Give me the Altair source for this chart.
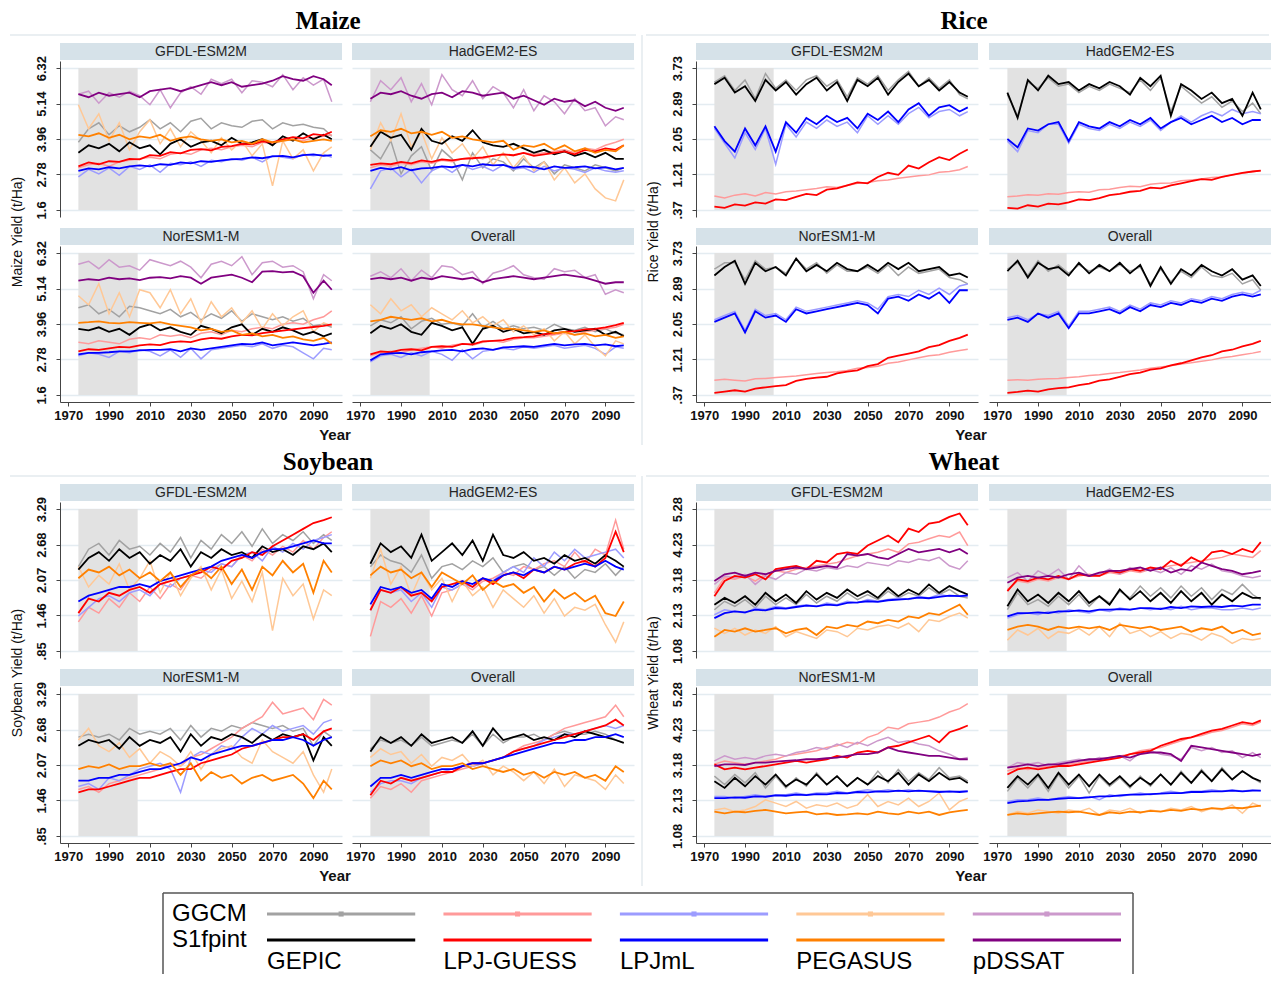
import altair as alt
import pandas as pd

SANS = "Liberation Sans"
SERIF = "Liberation Serif"

YEARS = [1975, 1980, 1985, 1990, 1995, 2000, 2005, 2010, 2015, 2020, 2025, 2030, 2035,
         2040, 2045, 2050, 2055, 2060, 2065, 2070, 2075, 2080, 2085, 2090, 2095, 2099]
X_TICKS = [1970, 1990, 2010, 2030, 2050, 2070, 2090]
SHADE_YEARS = [1975, 2004]
PANELS = ["GFDL-ESM2M", "HadGEM2-ES", "NorESM1-M", "Overall"]
MODELS = ["GEPIC", "LPJ-GUESS", "LPJmL", "PEGASUS", "pDSSAT"]
VARIANTS = ["GGCM", "S1fpint"]
LIGHT = ["#a2a2a2", "#ff9a9a", "#9c9cff", "#ffc896", "#cc99cc"]
DARK = ["#000000", "#ff0000", "#0000ff", "#ff8000", "#800080"]

MAIZE_TICKS = [1.6, 2.78, 3.96, 5.14, 6.32]
RICE_TICKS = [0.37, 1.21, 2.05, 2.89, 3.73]
SOY_TICKS = [0.85, 1.46, 2.07, 2.68, 3.29]
WHEAT_TICKS = [1.08, 2.13, 3.18, 4.23, 5.28]

# ---- data: model -> (GGCM series, S1fpint series), one value per entry of YEARS ----
maize_gfdl = {
    "GEPIC": ([3.85, 4.3, 4.5, 4.1, 4.4, 4.2, 4.35, 4.6, 4.3, 4.5, 4.2, 4.55, 4.65, 4.3, 4.5, 4.4, 4.35, 4.55, 4.6, 4.3, 4.5, 4.4, 4.45, 4.35, 4.3, 4.05],
              [3.5, 3.75, 3.65, 3.8, 3.55, 3.85, 3.65, 3.75, 3.45, 3.8, 3.95, 3.7, 3.85, 3.9, 3.75, 4.0, 3.8, 3.85, 3.95, 3.75, 4.05, 3.9, 4.15, 3.95, 4.1, 3.95]),
    "LPJ-GUESS": ([3.0, 3.1, 3.15, 3.05, 3.2, 3.25, 3.3, 3.35, 3.3, 3.45, 3.5, 3.45, 3.6, 3.65, 3.6, 3.7, 3.75, 3.7, 3.85, 3.8, 3.9, 3.95, 3.9, 4.0, 4.05, 4.1],
                  [3.05, 3.18, 3.12, 3.22, 3.2, 3.3, 3.28, 3.42, 3.4, 3.52, 3.48, 3.6, 3.62, 3.58, 3.7, 3.72, 3.8, 3.78, 3.88, 3.85, 3.95, 4.02, 3.98, 4.12, 4.08, 4.2]),
    "LPJmL": ([2.7, 2.95, 2.8, 3.0, 2.75, 3.05, 2.95, 3.1, 2.85, 3.15, 3.1, 3.2, 3.05, 3.25, 3.2, 3.3, 3.25, 3.35, 3.2, 3.4, 3.35, 3.3, 3.45, 3.4, 3.45, 3.35],
              [2.9, 2.98, 2.95, 3.02, 2.98, 3.05, 3.08, 3.05, 3.12, 3.1, 3.18, 3.15, 3.22, 3.2, 3.25, 3.28, 3.3, 3.35, 3.32, 3.38, 3.4, 3.35, 3.42, 3.45, 3.4, 3.42]),
    "PEGASUS": ([5.1, 4.3, 4.8, 3.9, 4.5, 3.6, 4.2, 4.6, 3.8, 4.3, 3.7, 4.2, 3.9, 3.5, 4.0, 3.6, 3.9, 3.4, 3.8, 2.4, 3.9, 3.3, 3.6, 2.9, 3.5, 3.7],
                [4.1, 4.05, 4.15, 4.0, 4.1, 3.95, 4.05, 4.0, 4.1, 3.9, 4.0, 4.05, 3.95, 3.9, 3.95, 3.85, 3.9, 3.8, 3.95, 3.85, 3.9, 3.95, 3.85, 3.9, 3.95, 3.9]),
    "pDSSAT": ([5.45, 5.55, 5.15, 5.5, 5.35, 5.55, 5.4, 5.1, 5.6, 5.0, 5.5, 5.7, 5.45, 5.95, 5.8, 5.95, 5.5, 5.9, 5.85, 5.7, 6.1, 5.6, 6.0, 5.75, 5.95, 5.2],
               [5.45, 5.35, 5.5, 5.4, 5.45, 5.5, 5.35, 5.55, 5.6, 5.65, 5.55, 5.65, 5.75, 5.85, 5.75, 5.85, 5.7, 5.75, 5.8, 5.9, 6.05, 5.95, 5.9, 6.05, 5.95, 5.75]),
}
maize_hadgem = {
    "GEPIC": ([3.6, 3.3, 3.9, 2.8, 3.4, 3.7, 2.9, 3.6, 3.3, 2.6, 3.5, 3.0, 3.3, 3.2, 2.9, 3.3, 3.0, 3.2, 2.8, 3.1, 3.0, 2.9, 3.1, 3.0, 2.9, 3.0],
              [3.7, 4.2, 4.0, 4.1, 3.6, 4.3, 3.9, 3.8, 4.05, 3.9, 4.25, 3.85, 3.75, 3.7, 3.8, 3.65, 3.5, 3.6, 3.45, 3.55, 3.4, 3.5, 3.35, 3.5, 3.3, 3.3]),
    "LPJ-GUESS": ([3.0, 3.1, 3.05, 3.15, 3.1, 3.2, 3.15, 3.25, 3.2, 3.3, 3.35, 3.3, 3.4, 3.45, 3.4, 3.5, 3.45, 3.5, 3.55, 3.6, 3.5, 3.65, 3.6, 3.75, 3.85, 3.95],
                  [3.1, 3.15, 3.12, 3.2, 3.15, 3.25, 3.2, 3.28, 3.25, 3.3, 3.32, 3.35, 3.4, 3.45, 3.42, 3.5, 3.4, 3.45, 3.5, 3.55, 3.45, 3.6, 3.55, 3.65, 3.6, 3.75]),
    "LPJmL": ([2.3, 2.9, 3.0, 2.7, 2.95, 2.5, 2.9, 3.05, 2.85, 3.1, 2.95, 3.05, 2.9, 3.1, 2.95, 3.0, 2.85, 3.05, 2.9, 3.0, 2.95, 2.85, 3.0, 2.9, 2.85, 2.9],
              [2.9, 3.0, 2.95, 3.02, 2.92, 2.98, 3.0, 3.05, 3.02, 3.1, 3.05, 3.12, 3.08, 3.1, 3.0, 3.05, 3.02, 2.95, 3.05, 3.0, 3.02, 3.05, 2.98, 3.02, 2.95, 3.0]),
    "PEGASUS": ([3.6, 4.5, 3.9, 4.8, 3.7, 4.2, 3.3, 4.0, 3.5, 3.8, 3.3, 3.7, 3.1, 3.5, 3.0, 3.4, 2.9, 3.2, 2.6, 3.0, 2.5, 2.8, 2.3, 2.0, 1.9, 2.6],
                [4.05, 4.25, 4.2, 4.3, 4.15, 4.2, 4.1, 4.2, 4.0, 4.05, 3.95, 3.9, 3.85, 3.9, 3.6, 3.75, 3.7, 3.8, 3.6, 3.75, 3.55, 3.65, 3.5, 3.6, 3.55, 3.75]),
    "pDSSAT": ([5.2, 5.9, 5.6, 6.0, 5.2, 5.8, 5.1, 6.1, 5.6, 5.4, 5.9, 5.3, 5.7, 5.5, 5.0, 5.6, 4.9, 5.4, 5.2, 4.8, 5.3, 4.9, 5.0, 4.4, 4.7, 4.6],
               [5.3, 5.5, 5.45, 5.55, 5.4, 5.3, 5.45, 5.5, 5.35, 5.55, 5.5, 5.4, 5.45, 5.5, 5.3, 5.4, 5.25, 5.1, 5.3, 5.2, 5.25, 5.05, 5.2, 5.0, 4.9, 5.0]),
}
maize_noresm = {
    "GEPIC": ([4.5, 4.6, 4.3, 4.45, 4.2, 4.55, 4.5, 4.4, 4.3, 4.45, 4.2, 4.35, 4.1, 4.3, 4.15, 4.4, 4.05, 4.3, 4.2, 4.1, 4.2, 4.05, 4.15, 3.9, 3.95, 3.85],
              [3.8, 3.75, 3.85, 3.7, 3.8, 3.6, 3.85, 3.95, 3.75, 3.85, 3.7, 3.6, 3.9, 3.8, 3.65, 3.85, 3.95, 3.6, 3.8, 3.7, 3.85, 3.75, 3.6, 3.7, 3.55, 3.65]),
    "LPJ-GUESS": ([3.35, 3.3, 3.4, 3.35, 3.3, 3.45, 3.5, 3.45, 3.6, 3.55, 3.6, 3.5, 3.65, 3.7, 3.6, 3.75, 3.7, 3.8, 3.85, 3.8, 3.95, 4.0, 3.95, 4.1, 4.2, 4.4],
                  [3.05, 3.12, 3.1, 3.15, 3.2, 3.18, 3.25, 3.28, 3.26, 3.35, 3.38, 3.36, 3.45, 3.5, 3.47, 3.55, 3.6, 3.58, 3.66, 3.7, 3.74, 3.78, 3.82, 3.86, 3.9, 3.95]),
    "LPJmL": ([2.9, 3.0, 2.95, 2.85, 3.05, 3.0, 3.1, 3.05, 2.9, 3.1, 2.85, 3.15, 2.8, 3.1, 3.15, 3.2, 3.25, 3.2, 3.3, 3.15, 3.25, 3.2, 3.0, 2.8, 3.15, 3.1],
              [2.95, 3.0, 3.0, 3.02, 3.05, 3.05, 3.08, 3.1, 3.1, 3.12, 3.05, 3.15, 3.1, 3.15, 3.2, 3.25, 3.3, 3.28, 3.35, 3.25, 3.3, 3.35, 3.3, 3.25, 3.3, 3.35]),
    "PEGASUS": ([4.9, 4.6, 5.3, 4.3, 5.0, 4.2, 5.1, 5.0, 4.5, 5.1, 4.3, 4.8, 4.0, 4.7, 4.2, 4.5, 4.0, 4.4, 3.8, 4.3, 3.9, 4.2, 4.4, 3.7, 4.0, 3.9],
                [4.0, 4.02, 4.05, 4.0, 3.98, 4.02, 4.0, 3.98, 4.02, 3.95, 3.9, 3.85, 3.75, 3.8, 3.7, 3.75, 3.6, 3.65, 3.55, 3.6, 3.5, 3.55, 3.45, 3.4, 3.5, 3.3]),
    "pDSSAT": ([5.95, 6.05, 5.8, 6.1, 5.85, 5.9, 5.75, 6.1, 6.0, 5.9, 6.05, 5.85, 5.5, 5.95, 6.05, 5.9, 6.2, 5.6, 6.0, 6.05, 5.85, 5.9, 5.7, 4.8, 5.6, 5.4],
               [5.4, 5.45, 5.42, 5.5, 5.45, 5.48, 5.42, 5.5, 5.52, 5.48, 5.55, 5.5, 5.3, 5.5, 5.55, 5.6, 5.5, 5.35, 5.7, 5.72, 5.68, 5.7, 5.55, 5.0, 5.4, 5.1]),
}
maize_overall = {
    "GEPIC": ([3.9, 4.1, 4.0, 4.2, 3.8, 4.05, 4.15, 3.95, 4.0, 3.9, 4.3, 3.85, 4.05, 3.8, 3.9, 3.8, 3.85, 3.75, 3.95, 3.8, 3.75, 3.85, 3.7, 3.8, 3.65, 3.6],
              [3.65, 3.9, 3.8, 3.95, 3.7, 3.6, 4.0, 3.9, 3.75, 3.85, 3.3, 3.8, 3.9, 3.7, 3.8, 3.65, 3.7, 3.6, 3.75, 3.8, 3.7, 3.75, 3.8, 3.6, 3.7, 3.55]),
    "LPJ-GUESS": ([2.9, 3.0, 3.05, 3.0, 3.1, 3.15, 3.2, 3.15, 3.25, 3.3, 3.25, 3.35, 3.4, 3.35, 3.45, 3.5, 3.5, 3.55, 3.6, 3.65, 3.6, 3.7, 3.75, 3.8, 3.85, 3.95],
                  [2.95, 3.05, 3.02, 3.1, 3.12, 3.08, 3.2, 3.22, 3.2, 3.3, 3.28, 3.38, 3.4, 3.42, 3.5, 3.52, 3.55, 3.62, 3.65, 3.7, 3.72, 3.78, 3.8, 3.85, 3.92, 4.0]),
    "LPJmL": ([2.7, 2.9, 2.95, 2.85, 3.0, 2.9, 3.05, 2.95, 2.75, 3.1, 2.8, 3.05, 3.1, 3.15, 3.1, 3.2, 3.15, 3.2, 3.25, 3.15, 3.2, 3.25, 3.15, 2.95, 3.2, 3.15],
              [2.75, 2.95, 2.98, 3.0, 2.95, 3.02, 3.05, 3.08, 3.1, 3.05, 3.12, 3.15, 3.1, 3.18, 3.2, 3.22, 3.2, 3.25, 3.3, 3.25, 3.28, 3.3, 3.25, 3.28, 3.22, 3.25]),
    "PEGASUS": ([4.6, 4.3, 4.8, 4.4, 4.6, 4.2, 4.5, 4.3, 4.1, 4.4, 4.0, 4.2, 3.9, 4.1, 3.7, 3.9, 3.6, 3.8, 3.4, 3.7, 3.3, 3.6, 3.2, 2.9, 3.4, 3.3],
                [4.05, 4.1, 4.2, 4.15, 4.1, 4.15, 4.05, 4.1, 4.0, 3.95, 3.95, 3.9, 3.85, 3.8, 3.8, 3.75, 3.7, 3.75, 3.65, 3.7, 3.6, 3.65, 3.55, 3.6, 3.5, 3.55]),
    "pDSSAT": ([5.55, 5.7, 5.5, 5.8, 5.4, 5.75, 5.5, 5.9, 5.85, 5.6, 5.7, 5.3, 5.65, 5.75, 5.9, 5.6, 5.5, 5.45, 5.8, 5.7, 5.75, 5.5, 5.6, 4.95, 5.1, 5.0],
               [5.45, 5.5, 5.45, 5.5, 5.4, 5.5, 5.45, 5.55, 5.5, 5.45, 5.5, 5.35, 5.45, 5.5, 5.55, 5.5, 5.45, 5.5, 5.55, 5.6, 5.55, 5.5, 5.4, 5.3, 5.35, 5.35]),
}

rice_gfdl = {
    "GEPIC": ([3.4, 3.55, 3.2, 3.45, 3.0, 3.6, 3.25, 3.45, 3.2, 3.45, 3.55, 3.3, 3.45, 3.05, 3.5, 3.35, 3.55, 3.2, 3.45, 3.65, 3.3, 3.5, 3.25, 3.45, 3.1, 3.0],
              [3.35, 3.5, 3.15, 3.3, 2.95, 3.45, 3.2, 3.4, 3.1, 3.35, 3.5, 3.2, 3.4, 2.95, 3.45, 3.3, 3.5, 3.1, 3.4, 3.6, 3.3, 3.45, 3.2, 3.4, 3.15, 3.05]),
    "LPJ-GUESS": ([0.7, 0.65, 0.72, 0.75, 0.7, 0.78, 0.75, 0.8, 0.82, 0.85, 0.88, 0.92, 0.9, 0.95, 1.0, 1.02, 1.06, 1.08, 1.12, 1.15, 1.18, 1.2, 1.26, 1.28, 1.32, 1.4],
                  [0.45, 0.42, 0.5, 0.47, 0.55, 0.52, 0.62, 0.6, 0.68, 0.75, 0.72, 0.85, 0.88, 0.95, 1.02, 1.0, 1.15, 1.25, 1.2, 1.42, 1.35, 1.5, 1.62, 1.55, 1.7, 1.8]),
    "LPJmL": ([2.3, 1.95, 1.6, 2.2, 1.8, 2.3, 1.45, 2.4, 2.1, 2.45, 2.3, 2.5, 2.35, 2.45, 2.2, 2.6, 2.4, 2.6, 2.4, 2.65, 2.8, 2.55, 2.7, 2.75, 2.6, 2.7],
              [2.35, 2.0, 1.75, 2.3, 1.9, 2.35, 1.75, 2.45, 2.2, 2.55, 2.4, 2.6, 2.45, 2.55, 2.3, 2.65, 2.5, 2.7, 2.45, 2.75, 2.9, 2.6, 2.8, 2.85, 2.7, 2.8]),
}
rice_hadgem = {
    "GEPIC": ([3.1, 2.6, 3.4, 3.25, 3.5, 3.3, 3.35, 3.15, 3.3, 3.2, 3.35, 3.25, 3.15, 3.45, 3.2, 3.5, 2.7, 3.3, 3.1, 2.9, 3.05, 2.8, 2.95, 2.7, 2.9, 2.65],
              [3.15, 2.55, 3.45, 3.2, 3.55, 3.35, 3.4, 3.2, 3.35, 3.25, 3.4, 3.3, 3.1, 3.5, 3.3, 3.55, 2.6, 3.35, 3.2, 3.0, 3.15, 2.9, 3.0, 2.6, 3.15, 2.75]),
    "LPJ-GUESS": ([0.68, 0.7, 0.73, 0.72, 0.75, 0.74, 0.78, 0.8, 0.79, 0.85, 0.86, 0.9, 0.93, 0.92, 0.98, 1.0, 1.01, 1.06, 1.08, 1.1, 1.14, 1.15, 1.2, 1.24, 1.28, 1.3],
                  [0.42, 0.4, 0.48, 0.45, 0.52, 0.5, 0.55, 0.62, 0.6, 0.65, 0.72, 0.75, 0.8, 0.82, 0.9, 0.88, 0.95, 1.0, 1.05, 1.1, 1.08, 1.15, 1.2, 1.25, 1.28, 1.3]),
    "LPJmL": ([2.0, 1.75, 2.25, 2.2, 2.4, 2.4, 1.95, 2.4, 2.3, 2.25, 2.4, 2.3, 2.45, 2.35, 2.5, 2.25, 2.45, 2.6, 2.45, 2.6, 2.7, 2.6, 2.75, 2.65, 2.7, 2.65],
              [2.05, 1.85, 2.3, 2.25, 2.4, 2.45, 2.0, 2.45, 2.35, 2.3, 2.45, 2.35, 2.5, 2.4, 2.55, 2.3, 2.45, 2.55, 2.4, 2.5, 2.6, 2.45, 2.55, 2.4, 2.5, 2.5]),
}
rice_noresm = {
    "GEPIC": ([3.35, 3.5, 3.5, 3.1, 3.55, 3.35, 3.4, 3.25, 3.6, 3.35, 3.5, 3.25, 3.45, 3.3, 3.3, 3.4, 3.25, 3.45, 3.2, 3.4, 3.25, 3.3, 3.35, 3.15, 3.1, 3.0],
              [3.2, 3.4, 3.55, 3.0, 3.5, 3.3, 3.4, 3.2, 3.6, 3.3, 3.45, 3.3, 3.5, 3.35, 3.3, 3.45, 3.3, 3.5, 3.35, 3.5, 3.3, 3.35, 3.4, 3.2, 3.25, 3.15]),
    "LPJ-GUESS": ([0.72, 0.74, 0.72, 0.7, 0.75, 0.76, 0.78, 0.8, 0.82, 0.85, 0.88, 0.9, 0.92, 0.95, 1.0, 1.02, 1.05, 1.12, 1.15, 1.2, 1.25, 1.3, 1.32, 1.38, 1.42, 1.45],
                  [0.42, 0.45, 0.48, 0.45, 0.52, 0.55, 0.58, 0.6, 0.7, 0.75, 0.78, 0.8, 0.88, 0.92, 0.95, 1.05, 1.1, 1.25, 1.3, 1.35, 1.4, 1.5, 1.55, 1.65, 1.72, 1.8]),
    "LPJmL": ([2.15, 2.25, 2.35, 1.9, 2.4, 2.25, 2.3, 2.15, 2.45, 2.35, 2.4, 2.45, 2.5, 2.55, 2.6, 2.55, 2.4, 2.7, 2.75, 2.7, 2.85, 2.75, 2.9, 2.75, 2.95, 3.0],
              [2.1, 2.2, 2.3, 1.85, 2.35, 2.2, 2.25, 2.1, 2.4, 2.3, 2.35, 2.4, 2.45, 2.5, 2.55, 2.5, 2.3, 2.65, 2.7, 2.6, 2.75, 2.65, 2.8, 2.55, 2.85, 2.85]),
}
rice_overall = {
    "GEPIC": ([3.35, 3.5, 3.2, 3.55, 3.3, 3.45, 3.25, 3.45, 3.3, 3.4, 3.3, 3.45, 3.3, 3.4, 3.0, 3.35, 3.05, 3.3, 3.15, 3.4, 3.2, 3.15, 3.25, 3.0, 3.1, 2.85],
              [3.3, 3.55, 3.15, 3.5, 3.35, 3.4, 3.2, 3.5, 3.25, 3.45, 3.3, 3.5, 3.25, 3.45, 2.95, 3.4, 3.0, 3.35, 3.2, 3.45, 3.3, 3.2, 3.35, 3.1, 3.2, 2.95]),
    "LPJ-GUESS": ([0.72, 0.73, 0.72, 0.74, 0.75, 0.76, 0.78, 0.8, 0.83, 0.85, 0.88, 0.9, 0.93, 0.96, 1.0, 1.03, 1.06, 1.1, 1.13, 1.17, 1.2, 1.25, 1.28, 1.32, 1.36, 1.4],
                  [0.42, 0.44, 0.47, 0.45, 0.5, 0.53, 0.55, 0.6, 0.64, 0.71, 0.74, 0.8, 0.86, 0.9, 0.97, 1.0, 1.07, 1.12, 1.19, 1.26, 1.31, 1.4, 1.44, 1.52, 1.58, 1.65]),
    "LPJmL": ([2.2, 2.25, 2.15, 2.3, 2.25, 2.35, 2.0, 2.35, 2.35, 2.4, 2.45, 2.35, 2.5, 2.4, 2.55, 2.5, 2.6, 2.55, 2.65, 2.6, 2.7, 2.65, 2.75, 2.8, 2.75, 2.85],
              [2.15, 2.2, 2.1, 2.3, 2.2, 2.3, 1.95, 2.3, 2.3, 2.35, 2.4, 2.3, 2.45, 2.35, 2.5, 2.45, 2.55, 2.5, 2.6, 2.55, 2.65, 2.6, 2.7, 2.75, 2.7, 2.75]),
}

soy_gfdl = {
    "GEPIC": ([2.3, 2.6, 2.7, 2.5, 2.75, 2.6, 2.65, 2.5, 2.7, 2.55, 2.8, 2.45, 2.75, 2.6, 2.85, 2.7, 2.9, 2.65, 2.95, 2.7, 2.85, 2.75, 2.9, 2.7, 2.85, 2.75],
              [2.25, 2.45, 2.55, 2.4, 2.6, 2.45, 2.55, 2.35, 2.5, 2.4, 2.6, 2.3, 2.55, 2.45, 2.6, 2.5, 2.55, 2.45, 2.65, 2.55, 2.6, 2.5, 2.65, 2.6, 2.7, 2.55]),
    "LPJ-GUESS": ([1.35, 1.6, 1.5, 1.75, 1.6, 1.85, 1.7, 1.95, 1.75, 2.0, 1.9, 2.15, 2.1, 2.25, 2.35, 2.3, 2.5, 2.4, 2.6, 2.5, 2.65, 2.55, 2.75, 2.6, 2.8, 2.9],
                  [1.5, 1.75, 1.7, 1.85, 1.8, 1.9, 1.95, 1.85, 2.0, 2.05, 2.1, 2.15, 2.2, 2.3, 2.25, 2.4, 2.45, 2.55, 2.5, 2.65, 2.75, 2.85, 2.95, 3.05, 3.1, 3.15]),
    "LPJmL": ([1.45, 1.6, 1.75, 1.8, 1.7, 1.85, 1.9, 1.8, 2.0, 1.95, 2.1, 2.15, 2.25, 2.2, 2.35, 2.3, 2.5, 2.55, 2.4, 2.65, 2.55, 2.7, 2.6, 2.75, 2.8, 2.85],
              [1.7, 1.8, 1.85, 1.9, 1.95, 1.95, 2.0, 1.95, 2.05, 2.1, 2.15, 2.2, 2.25, 2.3, 2.4, 2.45, 2.5, 2.45, 2.55, 2.6, 2.6, 2.65, 2.7, 2.75, 2.7, 2.7]),
    "PEGASUS": ([2.3, 1.95, 2.15, 2.0, 2.35, 1.9, 2.1, 2.4, 1.85, 2.2, 1.8, 2.1, 2.3, 1.9, 2.25, 1.75, 2.05, 1.7, 2.2, 1.2, 2.1, 1.8, 2.0, 1.4, 1.9, 1.8],
                [2.1, 2.25, 2.2, 2.3, 2.15, 2.25, 2.1, 2.2, 2.05, 2.2, 1.95, 2.15, 2.25, 2.1, 2.3, 2.0, 2.25, 1.9, 2.3, 2.15, 2.4, 2.2, 2.35, 1.85, 2.4, 2.2]),
}
soy_hadgem = {
    "GEPIC": ([2.3, 2.5, 2.4, 2.35, 2.2, 2.5, 2.1, 2.3, 2.35, 2.25, 2.4, 2.3, 2.45, 2.2, 2.3, 2.35, 2.25, 2.3, 2.15, 2.3, 2.1, 2.25, 2.2, 2.35, 2.15, 2.3],
              [2.35, 2.7, 2.55, 2.65, 2.45, 2.85, 2.4, 2.55, 2.7, 2.5, 2.75, 2.4, 2.85, 2.5, 2.45, 2.55, 2.4, 2.45, 2.35, 2.5, 2.4, 2.45, 2.35, 2.5, 2.4, 2.3]),
    "LPJ-GUESS": ([1.1, 1.7, 1.6, 1.75, 1.5, 1.8, 1.45, 1.85, 1.9, 2.0, 1.9, 2.05, 2.1, 2.2, 2.15, 2.3, 2.25, 2.35, 2.4, 2.3, 2.55, 2.35, 2.6, 2.5, 3.1, 2.6],
                  [1.55, 1.9, 1.85, 1.95, 1.8, 1.85, 1.7, 1.95, 2.0, 2.05, 1.95, 2.1, 2.0, 2.15, 2.2, 2.1, 2.25, 2.2, 2.3, 2.25, 2.35, 2.4, 2.3, 2.45, 2.9, 2.55]),
    "LPJmL": ([1.55, 1.9, 1.85, 1.9, 1.7, 1.85, 1.6, 1.95, 1.9, 2.0, 1.95, 2.1, 2.05, 2.2, 2.3, 2.2, 2.45, 2.3, 2.55, 2.4, 2.6, 2.45, 2.5, 2.55, 2.6, 2.45],
              [1.65, 1.95, 1.9, 1.95, 1.85, 1.9, 1.75, 2.0, 1.95, 2.05, 2.0, 2.1, 2.05, 2.15, 2.2, 2.15, 2.25, 2.2, 2.3, 2.25, 2.3, 2.35, 2.3, 2.4, 2.3, 2.25]),
    "PEGASUS": ([2.1, 2.6, 2.0, 2.3, 1.8, 2.2, 1.9, 2.1, 1.7, 2.05, 1.8, 1.95, 1.6, 1.9, 1.75, 1.6, 1.8, 1.5, 1.75, 1.45, 1.6, 1.55, 1.65, 1.3, 1.0, 1.35],
                [2.15, 2.3, 2.2, 2.25, 2.1, 2.2, 1.95, 2.2, 2.1, 2.0, 2.15, 1.9, 2.05, 1.95, 2.0, 1.85, 1.95, 1.7, 1.9, 1.75, 1.85, 1.7, 1.8, 1.5, 1.45, 1.7]),
}
soy_noresm = {
    "GEPIC": ([2.55, 2.6, 2.55, 2.6, 2.5, 2.7, 2.6, 2.65, 2.6, 2.7, 2.5, 2.75, 2.55, 2.7, 2.65, 2.75, 2.7, 2.8, 2.75, 2.7, 2.75, 2.65, 2.7, 2.4, 2.65, 2.55],
              [2.4, 2.5, 2.45, 2.5, 2.35, 2.55, 2.4, 2.5, 2.45, 2.55, 2.3, 2.6, 2.4, 2.55, 2.5, 2.6, 2.55, 2.45, 2.6, 2.5, 2.6, 2.55, 2.6, 2.15, 2.55, 2.4]),
    "LPJ-GUESS": ([1.65, 1.7, 1.6, 1.75, 1.8, 1.85, 1.9, 1.95, 2.0, 2.1, 2.05, 2.2, 2.25, 2.35, 2.45, 2.55, 2.7, 2.8, 2.9, 3.15, 2.95, 3.0, 3.05, 2.85, 3.2, 3.1],
                  [1.6, 1.65, 1.65, 1.7, 1.75, 1.8, 1.85, 1.85, 1.9, 1.95, 2.0, 2.0, 2.1, 2.15, 2.2, 2.25, 2.35, 2.4, 2.45, 2.5, 2.55, 2.55, 2.6, 2.5, 2.65, 2.7]),
    "LPJmL": ([1.7, 1.75, 1.65, 1.85, 1.8, 1.9, 2.0, 2.05, 2.1, 2.0, 1.6, 2.2, 2.3, 2.25, 2.4, 2.35, 2.55, 2.7, 2.6, 2.75, 2.65, 2.7, 2.75, 2.6, 2.8, 2.85],
              [1.8, 1.8, 1.85, 1.85, 1.9, 1.9, 1.95, 2.0, 2.0, 2.05, 2.1, 2.2, 2.15, 2.25, 2.3, 2.35, 2.4, 2.4, 2.45, 2.5, 2.5, 2.55, 2.5, 2.4, 2.5, 2.55]),
    "PEGASUS": ([2.5, 2.7, 2.4, 2.3, 2.45, 2.2, 2.35, 2.1, 2.3, 2.2, 2.05, 2.3, 2.0, 2.25, 2.35, 2.4, 2.2, 2.1, 2.5, 2.3, 2.2, 2.1, 2.3, 1.9, 1.6, 2.0],
                [2.0, 2.05, 2.02, 2.08, 2.0, 2.05, 2.05, 2.1, 2.05, 2.1, 1.9, 2.1, 1.8, 1.95, 1.85, 1.9, 1.75, 1.85, 1.9, 1.8, 1.85, 1.9, 1.75, 1.5, 1.8, 1.65]),
}
soy_overall = {
    "GEPIC": ([2.35, 2.5, 2.45, 2.5, 2.4, 2.55, 2.4, 2.45, 2.5, 2.45, 2.6, 2.4, 2.6, 2.45, 2.55, 2.55, 2.6, 2.5, 2.6, 2.65, 2.6, 2.6, 2.65, 2.6, 2.5, 2.45],
              [2.3, 2.55, 2.45, 2.55, 2.4, 2.6, 2.45, 2.5, 2.55, 2.45, 2.65, 2.4, 2.7, 2.5, 2.55, 2.6, 2.5, 2.55, 2.5, 2.6, 2.55, 2.65, 2.6, 2.55, 2.5, 2.45]),
    "LPJ-GUESS": ([1.5, 1.7, 1.65, 1.75, 1.6, 1.8, 1.85, 1.9, 1.95, 2.0, 2.05, 2.1, 2.15, 2.2, 2.3, 2.4, 2.45, 2.5, 2.6, 2.7, 2.75, 2.8, 2.85, 2.9, 3.1, 2.9],
                  [1.55, 1.8, 1.75, 1.85, 1.8, 1.85, 1.9, 1.95, 1.95, 2.05, 2.1, 2.1, 2.15, 2.2, 2.3, 2.35, 2.4, 2.45, 2.5, 2.55, 2.6, 2.65, 2.7, 2.75, 2.85, 2.75]),
    "LPJmL": ([1.6, 1.75, 1.8, 1.8, 1.75, 1.85, 1.9, 1.95, 2.0, 2.05, 2.05, 2.1, 2.15, 2.2, 2.3, 2.35, 2.4, 2.5, 2.55, 2.6, 2.6, 2.65, 2.7, 2.75, 2.7, 2.75],
              [1.7, 1.85, 1.85, 1.9, 1.85, 1.9, 1.95, 2.0, 2.0, 2.05, 2.1, 2.1, 2.15, 2.2, 2.25, 2.3, 2.35, 2.4, 2.45, 2.45, 2.5, 2.5, 2.55, 2.55, 2.6, 2.55]),
    "PEGASUS": ([2.2, 2.35, 2.25, 2.3, 2.1, 2.25, 2.05, 2.2, 2.15, 2.25, 2.05, 2.15, 1.9, 2.05, 1.95, 1.8, 1.95, 1.75, 2.0, 1.7, 1.9, 1.85, 1.8, 1.65, 1.9, 1.75],
                [2.05, 2.15, 2.1, 2.15, 2.05, 2.1, 2.0, 2.05, 2.05, 2.1, 2.0, 2.05, 2.0, 1.95, 2.0, 1.9, 1.95, 1.85, 1.95, 1.9, 1.95, 1.85, 1.9, 1.8, 2.05, 1.95]),
}

wheat_gfdl = {
    "GEPIC": ([2.3, 2.55, 2.4, 2.6, 2.35, 2.7, 2.45, 2.65, 2.45, 2.75, 2.5, 2.7, 2.55, 2.8, 2.6, 2.75, 2.6, 2.85, 2.65, 2.8, 2.7, 2.95, 2.75, 2.9, 2.7, 2.65],
              [2.45, 2.65, 2.5, 2.7, 2.45, 2.8, 2.55, 2.75, 2.5, 2.85, 2.6, 2.8, 2.65, 2.9, 2.7, 2.85, 2.65, 2.95, 2.7, 2.9, 2.75, 3.05, 2.8, 3.0, 2.85, 2.75]),
    "LPJ-GUESS": ([2.8, 3.25, 3.2, 3.3, 3.15, 3.35, 3.45, 3.4, 3.5, 3.55, 3.6, 3.65, 3.7, 3.8, 3.9, 3.95, 4.0, 4.1, 4.0, 4.25, 4.3, 4.4, 4.5, 4.45, 4.6, 4.2],
                  [2.7, 3.15, 3.3, 3.25, 3.35, 3.2, 3.5, 3.55, 3.6, 3.5, 3.75, 3.7, 3.95, 4.0, 3.95, 4.2, 4.35, 4.5, 4.3, 4.7, 4.6, 4.85, 4.9, 5.05, 5.15, 4.8]),
    "LPJmL": ([2.15, 2.3, 2.25, 2.2, 2.35, 2.3, 2.4, 2.35, 2.4, 2.45, 2.4, 2.5, 2.45, 2.55, 2.5, 2.6, 2.55, 2.6, 2.65, 2.6, 2.7, 2.65, 2.75, 2.7, 2.7, 2.75],
              [2.05, 2.2, 2.25, 2.22, 2.3, 2.28, 2.35, 2.33, 2.38, 2.42, 2.4, 2.45, 2.43, 2.5, 2.52, 2.55, 2.53, 2.58, 2.6, 2.62, 2.66, 2.64, 2.68, 2.72, 2.7, 2.72]),
    "PEGASUS": ([1.75, 1.6, 1.75, 1.55, 1.7, 1.6, 1.8, 1.5, 1.65, 1.55, 1.45, 1.7, 1.65, 1.5, 1.75, 1.7, 1.8, 1.85, 1.75, 1.9, 1.65, 2.0, 1.95, 2.1, 2.2, 2.05],
                [1.5, 1.7, 1.65, 1.75, 1.65, 1.7, 1.75, 1.6, 1.7, 1.75, 1.55, 1.8, 1.75, 1.85, 1.8, 1.95, 1.9, 2.0, 1.95, 2.1, 2.05, 2.2, 2.15, 2.3, 2.45, 2.15]),
    "pDSSAT": ([3.05, 3.3, 3.25, 3.35, 3.05, 3.3, 3.2, 3.4, 3.35, 3.5, 3.45, 3.55, 3.5, 3.6, 3.55, 3.7, 3.65, 3.6, 3.75, 3.7, 3.8, 3.75, 3.85, 3.6, 3.5, 3.75],
               [3.15, 3.35, 3.4, 3.3, 3.4, 3.35, 3.45, 3.5, 3.55, 3.5, 3.55, 3.6, 3.55, 3.95, 3.9, 3.95, 3.85, 3.8, 3.95, 4.1, 4.0, 4.05, 4.1, 4.0, 4.1, 3.95]),
}
wheat_hadgem = {
    "GEPIC": ([2.3, 2.8, 2.45, 2.6, 2.4, 2.7, 2.45, 2.75, 2.4, 2.7, 2.5, 2.85, 2.65, 3.0, 2.7, 2.95, 2.65, 3.0, 2.7, 2.95, 2.6, 2.9, 2.75, 3.05, 2.75, 2.6],
              [2.4, 2.9, 2.55, 2.75, 2.5, 2.8, 2.55, 2.85, 2.5, 2.7, 2.45, 2.9, 2.6, 2.85, 2.55, 2.8, 2.5, 2.85, 2.55, 2.8, 2.45, 2.75, 2.55, 2.8, 2.65, 2.65]),
    "LPJ-GUESS": ([2.9, 3.15, 3.1, 3.2, 3.15, 3.25, 3.2, 3.3, 3.35, 3.3, 3.4, 3.35, 3.45, 3.4, 3.5, 3.55, 3.6, 3.65, 3.7, 3.75, 3.8, 3.85, 3.95, 3.9, 3.85, 4.05],
                  [2.85, 3.2, 3.15, 3.25, 3.2, 3.3, 3.2, 3.35, 3.3, 3.3, 3.45, 3.4, 3.5, 3.45, 3.55, 3.5, 3.75, 3.6, 3.85, 3.7, 4.0, 4.05, 3.95, 4.1, 4.0, 4.3]),
    "LPJmL": ([2.05, 2.15, 2.2, 2.15, 2.25, 2.2, 2.3, 2.25, 2.2, 2.3, 2.25, 2.35, 2.3, 2.35, 2.3, 2.35, 2.3, 2.4, 2.3, 2.35, 2.35, 2.3, 2.3, 2.35, 2.3, 2.35],
              [2.1, 2.2, 2.2, 2.22, 2.2, 2.25, 2.25, 2.28, 2.25, 2.3, 2.3, 2.32, 2.3, 2.35, 2.35, 2.32, 2.38, 2.35, 2.4, 2.38, 2.4, 2.38, 2.42, 2.4, 2.45, 2.45]),
    "PEGASUS": ([1.4, 1.7, 1.55, 1.75, 1.45, 1.65, 1.6, 1.75, 1.55, 1.8, 1.5, 1.9, 1.6, 1.7, 1.5, 1.65, 1.45, 1.6, 1.55, 1.4, 1.6, 1.5, 1.3, 1.45, 1.4, 1.45],
                [1.7, 1.8, 1.85, 1.8, 1.7, 1.8, 1.75, 1.8, 1.75, 1.8, 1.7, 1.85, 1.8, 1.75, 1.8, 1.7, 1.75, 1.8, 1.65, 1.75, 1.7, 1.8, 1.6, 1.7, 1.55, 1.6]),
    "pDSSAT": ([3.25, 3.4, 3.15, 3.45, 3.3, 3.5, 3.2, 3.6, 3.3, 3.35, 3.5, 3.35, 3.55, 3.45, 3.5, 3.4, 3.55, 3.35, 3.6, 3.5, 3.65, 3.45, 3.4, 3.3, 3.25, 3.3],
               [3.1, 3.25, 3.3, 3.25, 3.3, 3.25, 3.35, 3.4, 3.3, 3.4, 3.45, 3.45, 3.5, 3.55, 3.45, 3.55, 3.4, 3.5, 3.45, 3.7, 3.6, 3.5, 3.45, 3.35, 3.4, 3.45]),
}
wheat_noresm = {
    "GEPIC": ([2.85, 2.6, 2.9, 2.65, 2.95, 2.5, 2.85, 2.5, 2.8, 2.55, 2.95, 2.6, 2.85, 2.55, 2.8, 2.6, 3.0, 2.65, 3.05, 2.7, 2.95, 2.75, 3.1, 2.8, 2.85, 2.7],
              [2.7, 2.5, 2.8, 2.55, 2.85, 2.6, 2.9, 2.55, 2.75, 2.6, 2.9, 2.6, 2.85, 2.55, 2.8, 2.6, 2.85, 2.7, 2.95, 2.6, 2.9, 2.7, 2.95, 2.75, 2.8, 2.65]),
    "LPJ-GUESS": ([3.2, 3.3, 3.25, 3.2, 3.25, 3.3, 3.35, 3.45, 3.5, 3.55, 3.6, 3.7, 3.75, 3.85, 3.8, 4.0, 4.1, 4.3, 4.25, 4.4, 4.45, 4.5, 4.6, 4.75, 4.85, 5.0],
                  [3.2, 3.05, 3.1, 3.05, 3.1, 3.15, 3.2, 3.25, 3.3, 3.25, 3.3, 3.35, 3.45, 3.4, 3.55, 3.6, 3.55, 3.7, 3.75, 3.85, 3.95, 4.05, 3.85, 4.15, 4.25, 4.35]),
    "LPJmL": ([2.25, 2.25, 2.2, 2.25, 2.3, 2.25, 2.3, 2.3, 2.35, 2.3, 2.35, 2.35, 2.4, 2.35, 2.4, 2.45, 2.4, 2.45, 2.4, 2.45, 2.4, 2.42, 2.4, 2.38, 2.4, 2.42],
              [2.2, 2.2, 2.22, 2.21, 2.25, 2.24, 2.28, 2.27, 2.3, 2.29, 2.32, 2.31, 2.35, 2.34, 2.38, 2.37, 2.4, 2.39, 2.42, 2.4, 2.42, 2.4, 2.38, 2.4, 2.38, 2.4]),
    "PEGASUS": ([1.85, 1.9, 1.8, 1.85, 1.95, 2.15, 2.05, 1.95, 2.1, 1.9, 2.0, 1.95, 2.05, 1.9, 2.0, 2.3, 1.95, 2.1, 2.0, 2.2, 1.95, 2.1, 2.35, 1.85, 2.1, 2.2],
                [1.8, 1.75, 1.8, 1.78, 1.82, 1.85, 1.8, 1.75, 1.78, 1.8, 1.72, 1.75, 1.7, 1.72, 1.75, 1.72, 1.8, 1.75, 1.72, 1.8, 1.75, 1.8, 1.7, 1.78, 1.82, 1.85]),
    "pDSSAT": ([3.3, 3.45, 3.35, 3.4, 3.35, 3.45, 3.5, 3.45, 3.55, 3.6, 3.7, 3.65, 3.8, 3.7, 3.85, 3.75, 3.9, 4.0, 3.85, 3.9, 3.8, 3.75, 3.6, 3.5, 3.35, 3.4],
               [3.15, 3.2, 3.2, 3.18, 3.25, 3.25, 3.28, 3.3, 3.32, 3.35, 3.35, 3.38, 3.4, 3.45, 3.5, 3.5, 3.55, 3.7, 3.6, 3.55, 3.5, 3.45, 3.45, 3.4, 3.35, 3.35]),
}
wheat_overall = {
    "GEPIC": ([2.4, 2.8, 2.5, 2.85, 2.4, 2.9, 2.5, 2.85, 2.35, 2.85, 2.55, 2.8, 2.5, 2.85, 2.55, 2.9, 2.6, 3.0, 2.65, 3.05, 2.7, 3.1, 2.75, 3.0, 2.8, 2.65],
              [2.5, 2.85, 2.6, 2.9, 2.5, 2.95, 2.6, 2.9, 2.55, 2.9, 2.6, 2.85, 2.55, 2.8, 2.6, 2.9, 2.6, 2.95, 2.65, 3.0, 2.7, 3.05, 2.75, 3.0, 2.8, 2.7]),
    "LPJ-GUESS": ([3.0, 3.1, 3.05, 3.1, 3.15, 3.2, 3.2, 3.25, 3.3, 3.35, 3.4, 3.45, 3.5, 3.6, 3.65, 3.7, 3.8, 3.9, 4.0, 4.05, 4.15, 4.2, 4.3, 4.4, 4.35, 4.45],
                  [2.9, 3.05, 3.1, 3.05, 3.1, 3.15, 3.15, 3.2, 3.25, 3.3, 3.35, 3.4, 3.5, 3.55, 3.6, 3.75, 3.85, 3.95, 4.0, 4.1, 4.2, 4.25, 4.35, 4.45, 4.4, 4.5]),
    "LPJmL": ([2.1, 2.15, 2.15, 2.2, 2.15, 2.2, 2.25, 2.2, 2.25, 2.15, 2.3, 2.25, 2.3, 2.35, 2.3, 2.35, 2.4, 2.35, 2.4, 2.4, 2.45, 2.4, 2.45, 2.4, 2.45, 2.42],
              [2.05, 2.1, 2.12, 2.15, 2.15, 2.18, 2.2, 2.2, 2.22, 2.25, 2.25, 2.28, 2.3, 2.3, 2.32, 2.33, 2.35, 2.35, 2.38, 2.38, 2.4, 2.4, 2.42, 2.4, 2.42, 2.42]),
    "PEGASUS": ([1.7, 1.8, 1.75, 1.85, 1.8, 1.75, 1.85, 1.8, 1.9, 1.7, 1.85, 1.8, 1.9, 1.75, 1.85, 1.8, 1.9, 1.85, 1.95, 1.8, 1.9, 1.85, 2.0, 1.75, 2.05, 1.95],
                [1.7, 1.75, 1.72, 1.75, 1.78, 1.8, 1.78, 1.8, 1.75, 1.7, 1.78, 1.75, 1.8, 1.78, 1.82, 1.8, 1.85, 1.82, 1.88, 1.85, 1.9, 1.88, 1.92, 1.9, 1.95, 1.98]),
    "pDSSAT": ([3.1, 3.25, 3.2, 3.25, 3.15, 3.25, 3.3, 3.35, 3.3, 3.4, 3.35, 3.45, 3.3, 3.55, 3.6, 3.5, 3.45, 3.35, 3.7, 3.6, 3.7, 3.55, 3.6, 3.4, 3.55, 3.4],
               [3.1, 3.15, 3.2, 3.15, 3.2, 3.2, 3.25, 3.3, 3.35, 3.35, 3.4, 3.45, 3.4, 3.5, 3.55, 3.55, 3.5, 3.3, 3.75, 3.7, 3.65, 3.6, 3.55, 3.5, 3.45, 3.5]),
}

# ---- styling / layout (flat grid, flush bounds) ----
PW, PH = 282, 156
COL_W = [282, 334, 283, 282]
ROW_T = [0, 0, 71, 0]          # extra space above the plot inside the cell
STRIP_FILL = "#d6e2e9"
GRID = "#e4ecf1"
SHADE = "#e2e2e2"
SEP = "#e3eaee"
AXIS_DARK = "#444444"
X_DOMAIN = [1966, 2104]

SERIES = [f"{m} {v}" for v in VARIANTS for m in MODELS]
COLOR_SCALE = alt.Scale(domain=SERIES, range=LIGHT + DARK)
LABEL_EXPR = ("datum.value < 1 ? replace(format(datum.value, '.2f'), '0.', '.') "
              ": format(datum.value, '.3~r')")


def panel_frame(data):
    rows = []
    for model, (ggcm, s1) in data.items():
        assert len(ggcm) == len(YEARS) and len(s1) == len(YEARS), model
        for variant, vals in (("GGCM", ggcm), ("S1fpint", s1)):
            for yr, v in zip(YEARS, vals):
                rows.append({"year": yr, "value": v, "variant": variant,
                             "series": f"{model} {variant}"})
    return pd.DataFrame(rows)


def txt(text):
    return alt.Chart(alt.Data(values=[{"t": text}]))


def title_marks(text, T, rule_end):
    t = txt(text).mark_text(font=SERIF, fontSize=25, fontWeight="bold", color="#000000").encode(
        x=alt.value(268), y=alt.value(T - 40), text="t:N")
    r = txt(text).mark_rule(color=SEP, strokeWidth=1.5).encode(
        x=alt.value(-50), x2=alt.value(rule_end), y=alt.value(T - 26))
    return [t, r]


def vsep_marks(T):
    return [txt("sep").mark_rule(color=SEP, strokeWidth=1.5).encode(
        x=alt.value(-54), y=alt.value(T - 26), y2=alt.value(T + 384))]


def ylabel_marks(text):
    return [txt(text).mark_text(font=SANS, fontSize=14, angle=270, color="#111111").encode(
        x=alt.value(-42), y=alt.value(-14), text="t:N")]


def year_marks():
    return [txt("Year").mark_text(font=SANS, fontSize=15, fontWeight="bold", color="#111111").encode(
        x=alt.value(275), y=alt.value(PH + 33), text="t:N")]


def bound_marks():
    # invisible anchor fixing the top-left extent of the whole figure
    return [txt("anchor").mark_rule(strokeOpacity=0, color="#ffffff").encode(
        x=alt.value(-52), x2=alt.value(-51), y=alt.value(-53))]


def cell(data, ticks, pname, col, row, extras=()):
    left = col in (0, 2)
    bottom = row in (1, 3)
    T = ROW_T[row]
    step = (ticks[-1] - ticks[0]) / 4
    ydom = [ticks[0] - 0.2 * step, ticks[-1] + 0.2 * step]
    xscale = alt.Scale(domain=X_DOMAIN, range=[0, PW], nice=False, zero=False)
    yscale = alt.Scale(domain=ydom, range=[T + PH, T], nice=False, zero=False)
    if bottom:
        xaxis = alt.Axis(values=X_TICKS, format="d", title=None, grid=False,
                         labelFont=SANS, labelFontSize=13, labelFontWeight="bold",
                         labelColor="#111111", tickColor=AXIS_DARK, tickSize=4,
                         domainColor=AXIS_DARK, labelPadding=3, labelFlush=False)
    else:
        xaxis = None
    if left:
        yaxis = alt.Axis(values=ticks, title=None, labelExpr=LABEL_EXPR, labelAngle=270,
                         labelAlign="center", labelBaseline="bottom", labelFont=SANS,
                         labelFontSize=13, labelFontWeight="bold", labelColor="#111111",
                         tickColor=AXIS_DARK, tickSize=4, labelPadding=8,
                         domainColor=AXIS_DARK, grid=True, gridColor=GRID, gridWidth=1.5)
    else:
        yaxis = alt.Axis(values=ticks, title=None, labels=False, ticks=False, domain=False,
                         grid=True, gridColor=GRID, gridWidth=1.5)
    shade_df = pd.DataFrame({"x0": [SHADE_YEARS[0]], "x1": [SHADE_YEARS[1]],
                             "y0": [ticks[0]], "y1": [ticks[-1]]})
    shade = alt.Chart(shade_df).mark_rect(color=SHADE).encode(
        x=alt.X("x0:Q", scale=xscale, axis=xaxis), x2="x1:Q",
        y=alt.Y("y0:Q", scale=yscale, axis=yaxis), y2="y1:Q")
    df = panel_frame(data)
    layers = [shade]
    for variant, width in (("GGCM", 1.5), ("S1fpint", 1.8)):
        layers.append(
            alt.Chart(df[df["variant"] == variant]).mark_line(strokeWidth=width).encode(
                x=alt.X("year:Q", scale=xscale, axis=xaxis),
                y=alt.Y("value:Q", scale=yscale, axis=yaxis),
                color=alt.Color("series:N", scale=COLOR_SCALE, legend=None)))
    strip_rect = txt(pname).mark_rect(color=STRIP_FILL).encode(
        x=alt.value(0), x2=alt.value(PW), y=alt.value(T - 18), y2=alt.value(T - 1))
    strip_text = txt(pname).mark_text(font=SANS, fontSize=14, color="#262626").encode(
        x=alt.value(PW / 2), y=alt.value(T - 9), text="t:N")
    layers += [strip_rect, strip_text] + list(extras)
    return alt.layer(*layers).properties(width=COL_W[col], height=T + PH)


cells = [
    cell(maize_gfdl, MAIZE_TICKS, PANELS[0], 0, 0,
         title_marks("Maize", 0, 576) + bound_marks()),
    cell(maize_hadgem, MAIZE_TICKS, PANELS[1], 1, 0),
    cell(rice_gfdl, RICE_TICKS, PANELS[0], 2, 0,
         title_marks("Rice", 0, 573) + vsep_marks(0)),
    cell(rice_hadgem, RICE_TICKS, PANELS[1], 3, 0),
    cell(maize_noresm, MAIZE_TICKS, PANELS[2], 0, 1,
         ylabel_marks("Maize Yield (t/Ha)") + year_marks()),
    cell(maize_overall, MAIZE_TICKS, PANELS[3], 1, 1),
    cell(rice_noresm, RICE_TICKS, PANELS[2], 2, 1,
         ylabel_marks("Rice Yield (t/Ha)") + year_marks()),
    cell(rice_overall, RICE_TICKS, PANELS[3], 3, 1),
    cell(soy_gfdl, SOY_TICKS, PANELS[0], 0, 2, title_marks("Soybean", 71, 576)),
    cell(soy_hadgem, SOY_TICKS, PANELS[1], 1, 2),
    cell(wheat_gfdl, WHEAT_TICKS, PANELS[0], 2, 2,
         title_marks("Wheat", 71, 573) + vsep_marks(71)),
    cell(wheat_hadgem, WHEAT_TICKS, PANELS[1], 3, 2),
    cell(soy_noresm, SOY_TICKS, PANELS[2], 0, 3,
         ylabel_marks("Soybean Yield (t/Ha)") + year_marks()),
    cell(soy_overall, SOY_TICKS, PANELS[3], 1, 3),
    cell(wheat_noresm, WHEAT_TICKS, PANELS[2], 2, 3,
         ylabel_marks("Wheat Yield (t/Ha)") + year_marks()),
    cell(wheat_overall, WHEAT_TICKS, PANELS[3], 3, 3),
]

# ---- legend (a cell in the first column; its content overflows to the right) ----
LEG_H = 102
leg_df = pd.DataFrame([{"model": m, "variant": v, "series": f"{m} {v}"}
                       for v in VARIANTS for m in MODELS])
leg_xscale = alt.Scale(domain=MODELS, range=[207, 1061], paddingInner=0.16, paddingOuter=0)
leg_x = alt.X("model:N", scale=leg_xscale, axis=None)
leg_y = alt.Y("variant:N", scale=alt.Scale(type="point", domain=VARIANTS, range=[42, 68],
                                           padding=0), axis=None)
leg_color = alt.Color("series:N", scale=COLOR_SCALE, legend=None)
leg_lines = alt.Chart(leg_df).mark_bar(height=3).encode(x=leg_x, y=leg_y, color=leg_color)
leg_marks = alt.Chart(leg_df[leg_df["variant"] == "GGCM"]).mark_square(size=26, opacity=1).encode(
    x=leg_x, y=leg_y, color=leg_color)
leg_names = alt.Chart(pd.DataFrame({"model": MODELS})).mark_text(
    align="left", baseline="middle", font=SANS, fontSize=24, color="#000000").encode(
    x=alt.X("model:N", scale=leg_xscale, axis=None, bandPosition=0),
    y=alt.value(90), text="model:N")
leg_rows = alt.Chart(pd.DataFrame({"variant": VARIANTS})).mark_text(
    align="left", baseline="middle", font=SANS, fontSize=24, color="#000000").encode(
    x=alt.value(112), y=leg_y, text="variant:N")
frame_left = txt("f").mark_rule(color="#555555", strokeWidth=1.5).encode(
    x=alt.value(103), y=alt.value(21), y2=alt.value(LEG_H))
frame_right = txt("f").mark_rule(color="#555555", strokeWidth=1.5).encode(
    x=alt.value(1073), y=alt.value(21), y2=alt.value(LEG_H))
frame_top = txt("f").mark_rule(color="#555555", strokeWidth=1.5).encode(
    x=alt.value(103), x2=alt.value(1073), y=alt.value(21))
legend = alt.layer(frame_left, frame_right, frame_top, leg_lines, leg_marks, leg_names,
                   leg_rows).properties(width=PW, height=LEG_H)

chart = alt.concat(
    *cells, legend, columns=4, spacing={"row": 29, "column": 10},
    bounds="flush", align="each"
).properties(padding=0, background="white").configure_view(stroke=None)

chart.save("out.html", embed_options={"renderer": "svg", "actions": False})
